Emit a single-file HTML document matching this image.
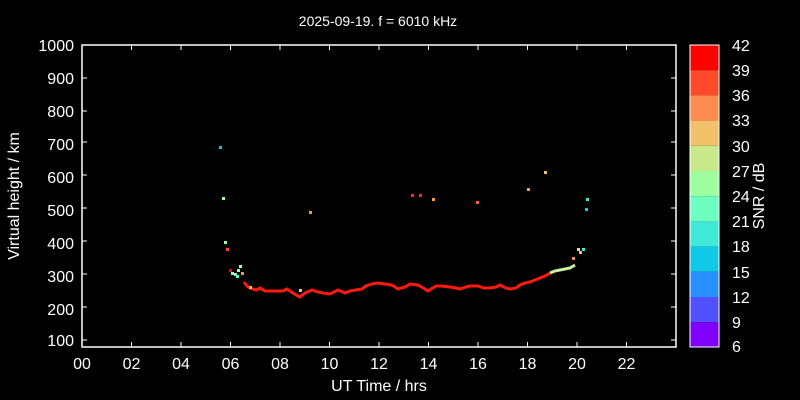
<!DOCTYPE html>
<html><head><meta charset="utf-8"><style>
html,body{margin:0;background:#000;width:800px;height:400px;overflow:hidden}
svg{display:block}
svg text{font-family:"Liberation Sans",sans-serif;fill:#fff}
</style></head><body>
<svg width="800" height="400" viewBox="0 0 800 400">
<rect width="800" height="400" fill="#000"/>
<text x="378" y="26" font-size="14" text-anchor="middle">2025-09-19. f = 6010 kHz</text>
<g stroke="#fff" stroke-width="1.5" fill="none">
<rect x="82" y="45" width="594" height="302"/>
</g>
<g stroke="#fff" stroke-width="1">
<path d="M82 340h5M82 307h5M82 274h5M82 241h5M82 208h5M82 175h5M82 142h5M82 111h5M82 78h5M676 340h-5M676 307h-5M676 274h-5M676 241h-5M676 208h-5M676 175h-5M676 142h-5M676 111h-5M676 78h-5"/>
<path d="M131.5 347v-5M181 347v-5M230.5 347v-5M280 347v-5M329.5 347v-5M379 347v-5M428.5 347v-5M478 347v-5M527.5 347v-5M577 347v-5M626.5 347v-5M131.5 45v5M181 45v5M230.5 45v5M280 45v5M329.5 45v5M379 45v5M428.5 45v5M478 45v5M527.5 45v5M577 45v5M626.5 45v5"/>
</g>
<g font-size="16" text-anchor="end">
<text x="74" y="51">1000</text><text x="74" y="84">900</text><text x="74" y="117">800</text><text x="74" y="150">700</text><text x="74" y="183">600</text><text x="74" y="216">500</text><text x="74" y="249">400</text><text x="74" y="282">300</text><text x="74" y="315">200</text><text x="74" y="346">100</text>
</g>
<g font-size="16" text-anchor="middle">
<text x="82" y="369">00</text><text x="131.5" y="369">02</text><text x="181" y="369">04</text><text x="230.5" y="369">06</text><text x="280" y="369">08</text><text x="329.5" y="369">10</text><text x="379" y="369">12</text><text x="428.5" y="369">14</text><text x="478" y="369">16</text><text x="527.5" y="369">18</text><text x="577" y="369">20</text><text x="626.5" y="369">22</text>
</g>
<text x="379" y="391" font-size="16" text-anchor="middle">UT Time / hrs</text>
<text transform="translate(19,196) rotate(-90)" font-size="16" text-anchor="middle">Virtual height / km</text>
<polyline fill="none" stroke="#ff1a10" stroke-width="3" points="244,282 247,286 250,288 256,290 260,288 265,291 272,291 283,291 287,289 293,293 296,295 300,297 305,293 312,290 318,292 323,293 330,294 338,290 345,293 350,291 356,290 362,289 366,286 372,284 378,283 385,284 392,285 398,289 405,287 410,284 418,285 425,289 428,291 436,286 442,286 450,287 456,288 460,289 466,287 470,286 478,286 484,288 490,288 496,287 500,285 506,288 510,289 516,288 520,285 525,283 530,282 535,280 540,278 545,276 550,273"/>
<polyline fill="none" stroke="#c8f0a0" stroke-width="3" points="550,273 555,271 560,270 565,269 570,268 575,265"/>
<g>
<rect x="219" y="146" width="3" height="3" fill="#10c8e8"/>
<rect x="222" y="197" width="3" height="3" fill="#9effa0"/>
<rect x="224" y="241" width="3" height="3" fill="#9effa0"/>
<rect x="226" y="248" width="3" height="3" fill="#ff4a2a"/>
<rect x="229" y="269" width="3" height="3" fill="#ff0000"/>
<rect x="231" y="272" width="3" height="3" fill="#c8e88a"/>
<rect x="234" y="273" width="3" height="3" fill="#6effc0"/>
<rect x="236" y="275" width="3" height="3" fill="#6effc0"/>
<rect x="237" y="269" width="3" height="3" fill="#9effa0"/>
<rect x="239" y="265" width="3" height="3" fill="#9effa0"/>
<rect x="241" y="272" width="3" height="3" fill="#ff8c4f"/>
<rect x="249" y="286" width="3" height="3" fill="#f2c26b"/>
<rect x="299" y="289" width="3" height="3" fill="#f2c26b"/>
<rect x="309" y="211" width="3" height="3" fill="#ff8c4f"/>
<rect x="411" y="194" width="3" height="3" fill="#ff2a1a"/>
<rect x="419" y="194" width="3" height="3" fill="#ff2a1a"/>
<rect x="432" y="198" width="3" height="3" fill="#f2a050"/>
<rect x="476" y="201" width="3" height="3" fill="#ff5a30"/>
<rect x="527" y="188" width="3" height="3" fill="#f2a050"/>
<rect x="544" y="171" width="3" height="3" fill="#f2c26b"/>
<rect x="572" y="257" width="3" height="3" fill="#ff8c4f"/>
<rect x="577" y="248" width="3" height="3" fill="#c8e88a"/>
<rect x="582" y="248" width="3" height="3" fill="#40e8d8"/>
<rect x="579" y="251" width="3" height="3" fill="#f2c26b"/>
<rect x="585" y="208" width="3" height="3" fill="#10c8e8"/>
<rect x="586" y="198" width="3" height="3" fill="#40e8d8"/>
</g>
<g>
<rect x="690" y="45" width="29" height="25.2" fill="#ff0000"/>
<rect x="690" y="70.2" width="29" height="25.2" fill="#ff4a2a"/>
<rect x="690" y="95.4" width="29" height="25.2" fill="#ff8c4f"/>
<rect x="690" y="120.6" width="29" height="25.2" fill="#f2c26b"/>
<rect x="690" y="145.8" width="29" height="25.2" fill="#c8e88a"/>
<rect x="690" y="171" width="29" height="25.2" fill="#9effa0"/>
<rect x="690" y="196.2" width="29" height="25.2" fill="#6effc0"/>
<rect x="690" y="221.4" width="29" height="25.2" fill="#40e8d8"/>
<rect x="690" y="246.6" width="29" height="25.2" fill="#10c8e8"/>
<rect x="690" y="271.8" width="29" height="25.2" fill="#2890ff"/>
<rect x="690" y="297" width="29" height="25.2" fill="#5050ff"/>
<rect x="690" y="322.2" width="29" height="24.8" fill="#8000ff"/>
<rect x="690" y="45" width="29" height="302" fill="none" stroke="#fff" stroke-width="1"/>
</g>
<g font-size="16">
<text x="732" y="51">42</text><text x="732" y="76">39</text><text x="732" y="101">36</text><text x="732" y="126">33</text><text x="732" y="152">30</text><text x="732" y="177">27</text><text x="732" y="202">24</text><text x="732" y="227">21</text><text x="732" y="252">18</text><text x="732" y="278">15</text><text x="732" y="303">12</text><text x="732" y="328">9</text><text x="732" y="352">6</text>
</g>
<text transform="translate(764,196) rotate(-90)" font-size="16" text-anchor="middle">SNR / dB</text>
</svg>
</body></html>
